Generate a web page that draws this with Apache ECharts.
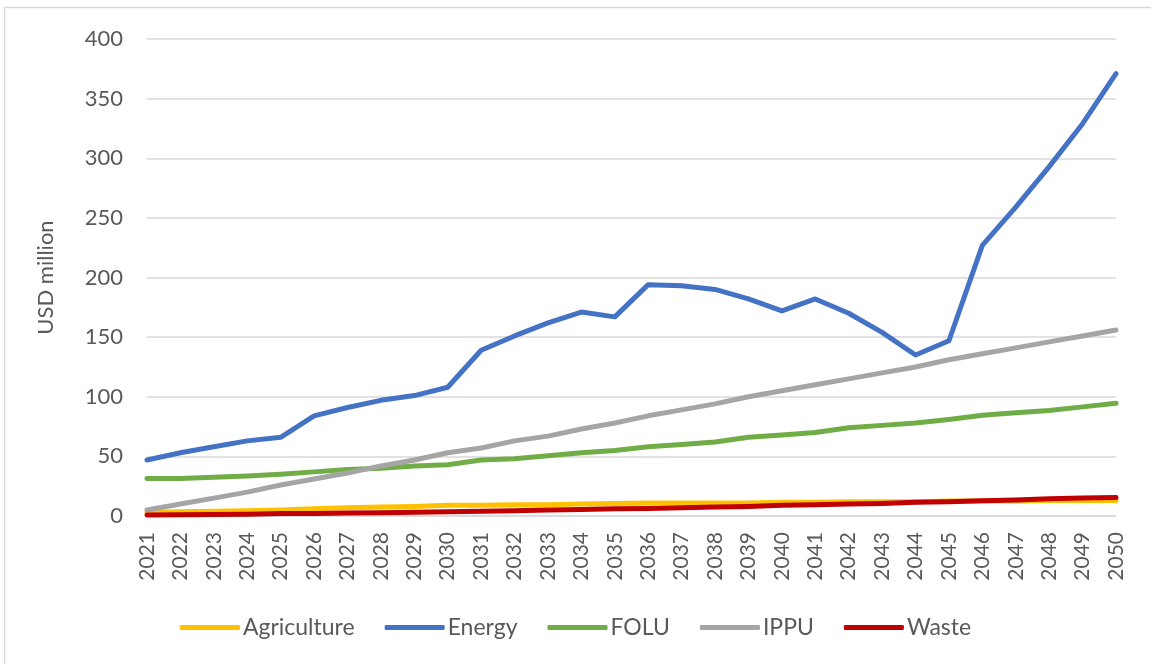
<!DOCTYPE html>
<html>
<head>
<meta charset="utf-8">
<script src="https://cdn.jsdelivr.net/npm/echarts@6/dist/echarts.min.js"></script>
<style>
  html, body { margin: 0; padding: 0; background: #fff; }
  #chart { width: 1151px; height: 664px; }
</style>
</head>
<body>
<div id="chart"></div>
<script>
const years = ['2021', '2022', '2023', '2024', '2025', '2026', '2027', '2028', '2029', '2030',
  '2031', '2032', '2033', '2034', '2035', '2036', '2037', '2038', '2039', '2040',
  '2041', '2042', '2043', '2044', '2045', '2046', '2047', '2048', '2049', '2050']

const agriculture = [3, 3.5, 4, 4.5, 5, 6, 7, 7.5, 8, 9,
  9, 9.5, 9.5, 10, 10.5, 11, 11, 11, 11, 11.5,
  11.5, 12, 12, 12, 12.5, 12.5, 12.5, 13, 13, 13]
const energy = [47, 53, 58, 63, 66, 84, 91, 97, 101, 108,
  139, 151, 162, 171, 167, 194, 193, 190, 182, 172,
  182, 170, 154, 135, 147, 227, 259, 293, 329, 371]
const folu = [31.5, 31.5, 32.5, 33.5, 35, 37, 39, 40, 42, 43,
  47, 48, 50.5, 53, 55, 58, 60, 62, 66, 68,
  70, 74, 76, 78, 81, 84.5, 86.5, 88.5, 91.5, 94.5]
const ippu = [5, 10, 15, 20, 26, 31, 36, 42, 47, 53,
  57, 63, 67, 73, 78, 84, 89, 94, 100, 105,
  110, 115, 120, 125, 131, 136, 141, 146, 151, 156]
const waste = [0.8, 1, 1.2, 1.5, 2, 2.2, 2.5, 2.8, 3.2, 3.5,
  4, 4.5, 5, 5.5, 6, 6.2, 7, 7.5, 8, 9,
  9.5, 10, 10.5, 11.5, 12, 12.8, 13.5, 14.5, 15, 15.5]

const yTicks = { min: 0, max: 400, interval: 50 }

const textColor = '#595959'
const font = 'Lato, "Liberation Sans", sans-serif'

function line(name, data, color) {
  return {
    name: name,
    type: 'line',
    data: data,
    symbol: 'none',
    lineStyle: { width: 5, color: color, cap: 'round', join: 'round' },
    itemStyle: { color: color },
    emphasis: { disabled: true },
  }
}

const chart = echarts.init(document.getElementById('chart'))
chart.setOption({
  animation: false,
  textStyle: { fontFamily: font },
  graphic: [
    {
      type: 'rect',
      shape: { x: 4.5, y: 7.5, width: 1200, height: 700 },
      style: { fill: 'none', stroke: '#d9d9d9', lineWidth: 1.5 },
      silent: true,
    },
  ],
  grid: { left: 147, right: 35, top: 39, bottom: 148 },
  legend: {
    bottom: 20,
    left: 'center',
    icon: 'roundRect',
    itemWidth: 60,
    itemHeight: 5,
    itemGap: 30,
    textStyle: { color: textColor, fontSize: 23, fontFamily: font, padding: [0, 0, 0, -2] },
    data: ['Agriculture', 'Energy', 'FOLU', 'IPPU', 'Waste'],
  },
  xAxis: {
    type: 'category',
    data: years,
    boundaryGap: false,
    axisLine: { lineStyle: { color: '#d9d9d9', width: 1.5 } },
    axisTick: { show: false },
    axisLabel: { rotate: 90, interval: 0, color: textColor, fontSize: 21, margin: 16, fontFamily: font },
  },
  yAxis: {
    type: 'value',
    min: yTicks.min,
    max: yTicks.max,
    interval: yTicks.interval,
    name: 'USD million',
    nameLocation: 'middle',
    nameGap: 90,
    nameTextStyle: { color: textColor, fontSize: 22, fontFamily: font },
    axisLine: { show: false },
    axisTick: { show: false },
    axisLabel: { color: textColor, fontSize: 22, margin: 24, fontFamily: font },
    splitLine: { lineStyle: { color: '#d9d9d9', width: 1.5 } },
  },
  series: [
    line('Agriculture', agriculture, '#FFC000'),
    line('Energy', energy, '#4472C4'),
    line('FOLU', folu, '#70AD47'),
    line('IPPU', ippu, '#A5A5A5'),
    line('Waste', waste, '#C00000'),
  ],
})
</script>
</body>
</html>
